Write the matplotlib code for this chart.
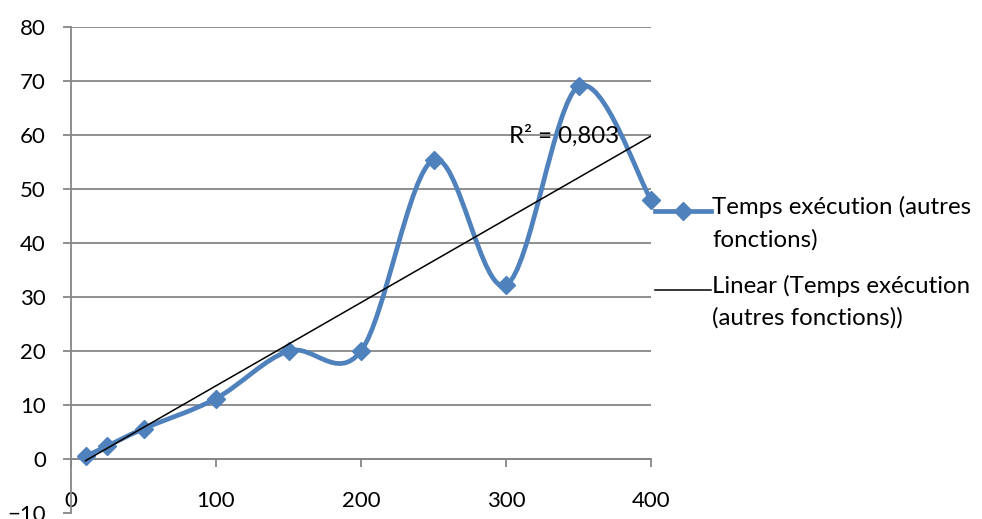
import numpy as np
import matplotlib
matplotlib.use("Agg")
import matplotlib.pyplot as plt
from matplotlib.path import Path
from matplotlib.patches import PathPatch
from matplotlib.lines import Line2D
from matplotlib.legend_handler import HandlerLine2D

plt.rcParams['font.family'] = ['Lato', 'DejaVu Sans']

# Data
x_vals = [10, 25, 50, 100, 150, 200, 250, 300, 350, 400]
y_vals = [0.5, 2.4, 5.6, 11.2, 20.0, 20.0, 55.4, 32.2, 69.0, 48.0]
series_label = "Temps exécution (autres\nfonctions)"
trend_label = "Linear (Temps exécution\n(autres fonctions))"
r2_label = "R² = 0,803"
x_ticks = [0, 100, 200, 300, 400]
y_ticks = [-10, 0, 10, 20, 30, 40, 50, 60, 70, 80]

blue = '#4F81BD'
grid_c = '#868686'
fs_tick = 16
fs_text = 17.3

fig = plt.figure(figsize=(9.82, 5.19), dpi=100)
ax = fig.add_axes([71/982, (519-513)/519, 580/982, (513-27)/519])
ax.set_xlim(0, 400)
ax.set_ylim(-10, 80)

# grid
ax.set_yticks(y_ticks)
ax.set_xticks(x_ticks)
ax.yaxis.grid(True, color=grid_c, lw=1.3)
ax.get_ygridlines()[0].set_visible(False)
ax.set_axisbelow(True)

for s in ['top', 'right']:
    ax.spines[s].set_visible(False)
ax.spines['bottom'].set_position(('data', 0))
ax.spines['bottom'].set_color(grid_c)
ax.spines['left'].set_color(grid_c)
ax.spines['bottom'].set_linewidth(1.3)
ax.spines['left'].set_linewidth(1.3)
ax.tick_params(axis='y', direction='out', length=6, width=1.3, color=grid_c,
               pad=12, labelsize=fs_tick, labelcolor='black')
ax.tick_params(axis='x', direction='out', length=6, width=1.3, color=grid_c,
               pad=17, labelsize=fs_tick, labelcolor='black')

# smooth line (Catmull-Rom as cubic Bezier)
pts = np.column_stack([x_vals, y_vals]).astype(float)
n = len(pts)
verts = [pts[0]]
codes = [Path.MOVETO]
for i in range(n - 1):
    p0 = pts[i - 1] if i > 0 else pts[i]
    p1 = pts[i]
    p2 = pts[i + 1]
    p3 = pts[i + 2] if i + 2 < n else pts[i + 1]
    c1 = p1 + (p2 - p0) / 6.0
    c2 = p2 - (p3 - p1) / 6.0
    verts += [c1, c2, p2]
    codes += [Path.CURVE4] * 3
patch = PathPatch(Path(verts, codes), facecolor='none', edgecolor=blue, lw=3.4,
                  capstyle='round', joinstyle='round', zorder=3)
ax.add_patch(patch)
ax.plot(x_vals, y_vals, linestyle='none', marker='D', markersize=9.5,
        color=blue, zorder=4, clip_on=False)

# linear trend
coef = np.polyfit(x_vals, y_vals, 1)
tx = np.array([x_vals[0], x_vals[-1]])
ax.plot(tx, np.polyval(coef, tx), color='black', lw=1.1, zorder=5)

ax.text(340, 59.8, r2_label, fontsize=fs_text, ha='center', va='center', zorder=6)


class FirstLineHandler(HandlerLine2D):
    """Align the legend handle with the first text line."""
    def __init__(self, shift, **kw):
        super().__init__(**kw)
        self.shift = shift

    def create_artists(self, legend, orig_handle, xdescent, ydescent,
                       width, height, fontsize, trans):
        return super().create_artists(legend, orig_handle, xdescent,
                                      ydescent - self.shift, width, height,
                                      fontsize, trans)


# legend
h1 = Line2D([], [], color=blue, lw=3.4, marker='D', markersize=9.5)
h2 = Line2D([], [], color='black', lw=1.1)
shift_pt = 16.8
leg = fig.legend([h1, h2], [series_label, trend_label], loc='upper left',
                 bbox_to_anchor=(655/982, 1 - 196/519), frameon=False,
                 fontsize=fs_text, handlelength=2.35, handletextpad=0.04,
                 labelspacing=1.02, borderaxespad=0, borderpad=0,
                 handler_map={h1: FirstLineHandler(shift_pt, numpoints=1),
                              h2: FirstLineHandler(shift_pt)})
for t in leg.get_texts():
    t.set_linespacing(1.6)

fig.savefig('out.png', dpi=100)
